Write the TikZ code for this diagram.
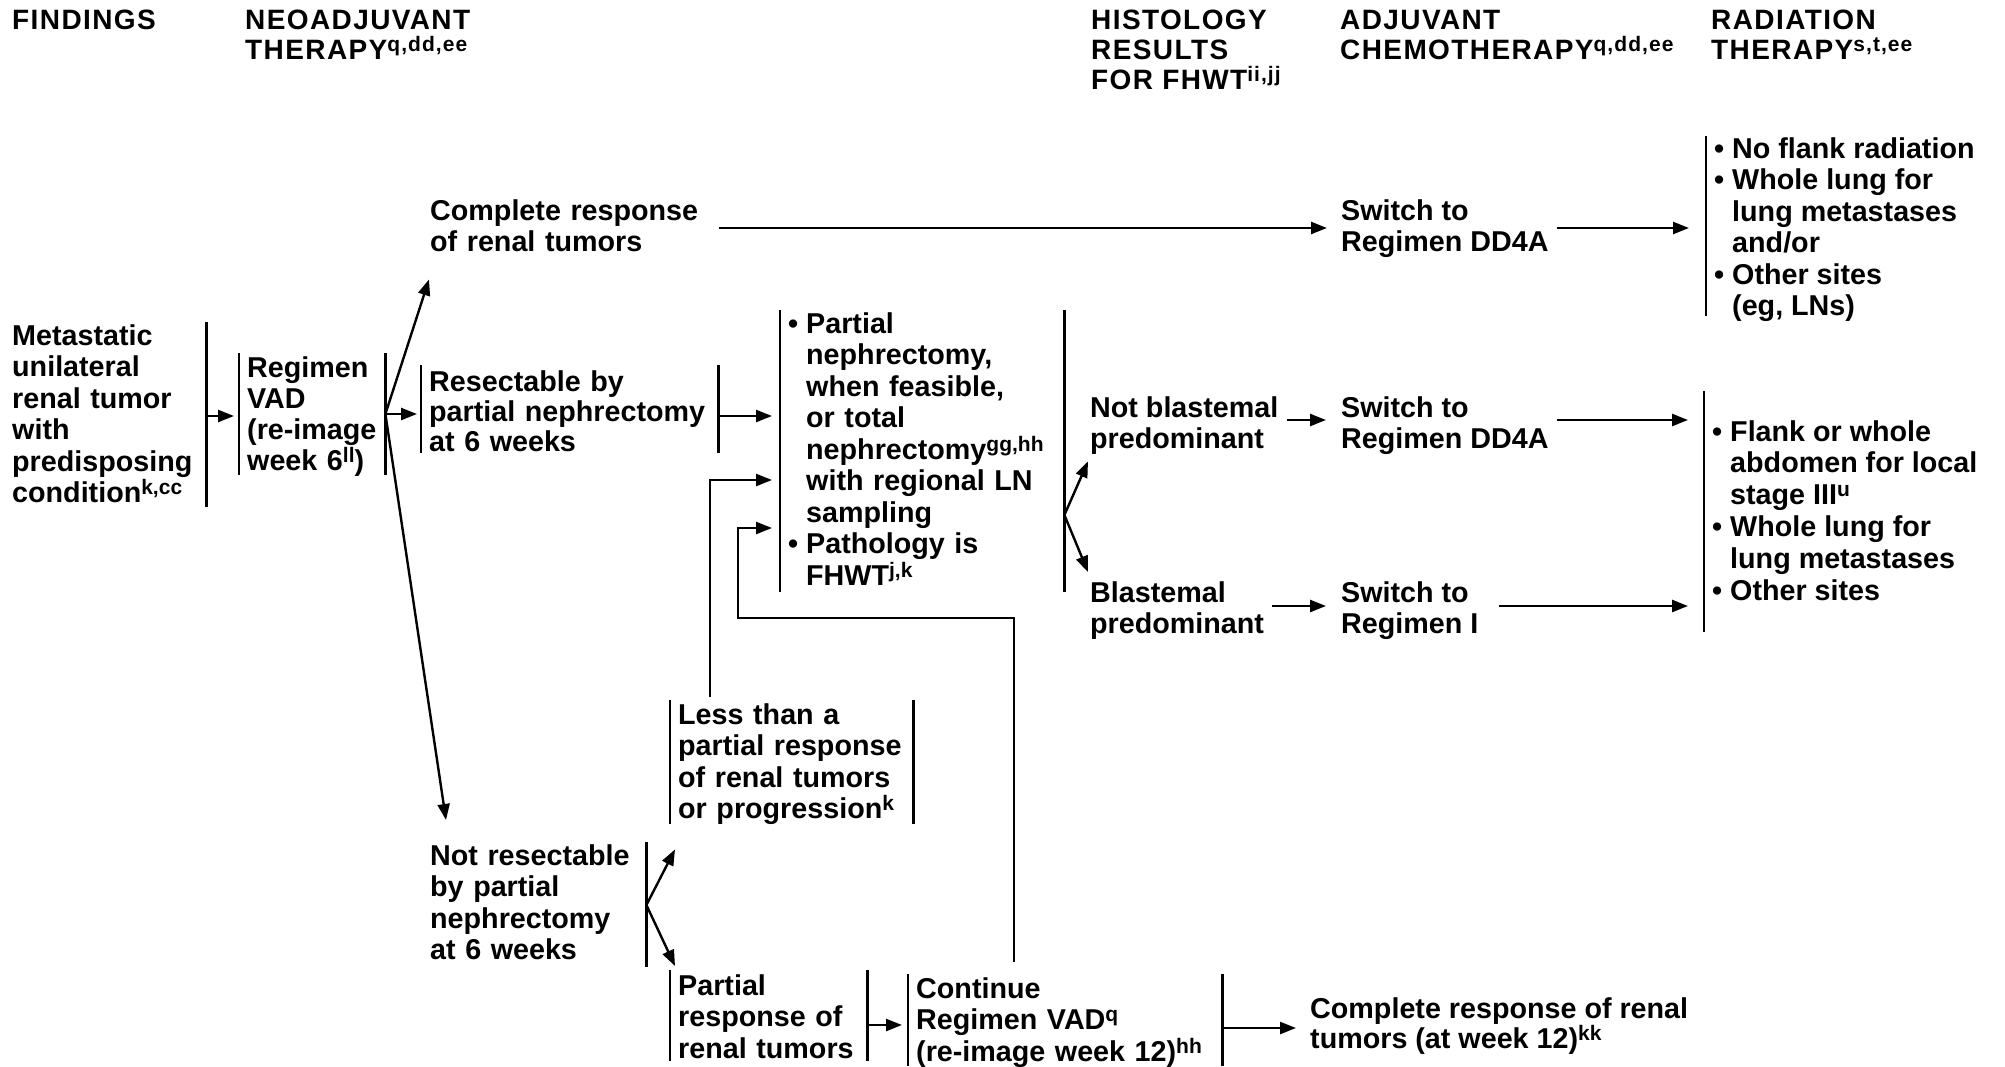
\documentclass[tikz,border=0pt]{standalone}
\usepackage{fontspec}
\setmainfont{Liberation Sans}
\newfontfamily\hdrfam[LetterSpace=5]{Liberation Sans}
\usetikzlibrary{arrows.meta,calc}

% raised footnote letters
\newcommand\sups[1]{\smash{\raisebox{8pt}{\fontsize{21}{21}\selectfont #1}}}
% stacked lines, baseline on the first line
\newcommand\lns[1]{\begin{tabular}[t]{@{}l@{}}#1\end{tabular}}
% bullet with hanging indent
\newcommand\bul{\makebox[18pt][l]{•}}
\newcommand\ind{\hspace*{18pt}}

\begin{document}
\begin{tikzpicture}[x=1pt,y=-1pt,
  txt/.style={anchor=north west, inner xsep=8pt, inner ysep=0pt,
              font=\fontsize{28.7}{31.5}\selectfont\bfseries},
  lead/.style={font=\fontsize{28.7}{#1}\selectfont\bfseries},
  hdr/.style={anchor=north west, inner sep=0pt,
              font=\hdrfam\fontsize{28}{30}\selectfont\bfseries},
  bar/.style={line width=2.8pt},
  arr/.style={line width=2.4pt, -{Triangle[length=16pt,width=12pt]}},
  ln/.style={line width=2.4pt}]

\fill[white] (0,0) rectangle (2005,1067);
\useasboundingbox (0,0) rectangle (2005,1067);

% column headings
\node[hdr] (h1) at (12,8)   {\lns{FINDINGS}};
\node[hdr] (h2) at (245,8)  {\lns{NEOADJUVANT\\THERAPY\sups{q,dd,ee}}};
\node[hdr] (h3) at (1091,8) {\lns{HISTOLOGY\\RESULTS\\FOR FHWT\sups{ii,jj}}};
\node[hdr] (h4) at (1340,8) {\lns{ADJUVANT\\CHEMOTHERAPY\sups{q,dd,ee}}};
\node[hdr] (h5) at (1711,8) {\lns{RADIATION\\THERAPY\sups{s,t,ee}}};

% boxes of the pathway
\node[txt, text width=186] (find) at (4,323)
  {\lns{Metastatic\\unilateral\\renal tumor\\with\\predisposing\\condition\sups{k,cc}}};
\node[txt, lead=31, text width=130] (reg) at (239,355.3)
  {\lns{Regimen\\VAD\\(re-image\\week 6\sups{ll})}};
\node[txt, text width=281] (cr1) at (422,198)
  {\lns{Complete response\\of renal tumors}};
\node[txt, lead=30, text width=281] (res) at (421,370)
  {\lns{Resectable by\\partial nephrectomy\\at 6 weeks}};
\node[txt, text width=268] (mid) at (780,311)
  {\lns{\bul Partial\\\ind nephrectomy,\\\ind when feasible,\\\ind or total\\
        \ind nephrectomy\sups{gg,hh}\\\ind with regional LN\\\ind sampling\\
        \bul Pathology is\\\ind FHWT\sups{j,k}}};
\node[txt] (nb) at (1082,395) {\lns{Not blastemal\\predominant}};
\node[txt] (bl) at (1082,580) {\lns{Blastemal\\predominant}};
\node[txt] (sw1) at (1333,198) {\lns{Switch to\\Regimen DD4A}};
\node[txt] (sw2) at (1333,395) {\lns{Switch to\\Regimen DD4A}};
\node[txt] (sw3) at (1333,580) {\lns{Switch to\\Regimen I}};
\node[txt] (radA) at (1706,136)
  {\lns{\bul No flank radiation\\\bul Whole lung for\\\ind lung metastases\\
        \ind and/or\\\bul Other sites\\\ind (eg, LNs)}};
\node[txt, lead=31.8] (radB) at (1704,418.7)
  {\lns{\bul Flank or whole\\\ind abdomen for local\\\ind stage III\sups{u}\\
        \bul Whole lung for\\\ind lung metastases\\\bul Other sites}};
\node[txt, text width=227] (less) at (670,702)
  {\lns{Less than a\\partial response\\of renal tumors\\or progression\sups{k}}};
\node[txt, text width=208] (notres) at (422,843)
  {\lns{Not resectable\\by partial\\nephrectomy\\at 6 weeks}};
\node[txt, text width=181] (part) at (670,973)
  {\lns{Partial\\response of\\renal tumors}};
\node[txt, text width=298] (cont) at (908,976)
  {\lns{Continue\\Regimen VAD\sups{q}\\(re-image week 12)\sups{hh}}};
\node[txt, lead=29] (cr2) at (1302,997.7)
  {\lns{Complete response of renal\\tumors (at week 12)\sups{kk}}};

% bracket bars
\draw[bar] (find.east |- 0,322) -- (find.east |- 0,507);
\draw[bar] (reg.west |- 0,353) -- (reg.west |- 0,475);
\draw[bar] (reg.east |- 0,353) -- (reg.east |- 0,475);
\draw[bar] (res.west |- 0,365) -- (res.west |- 0,453);
\draw[bar] (res.east |- 0,365) -- (res.east |- 0,453);
\draw[bar] (mid.west |- 0,310) -- (mid.west |- 0,592);
\draw[bar] (mid.east |- 0,310) -- (mid.east |- 0,592);
\draw[bar] (radA.west |- 0,136) -- (radA.west |- 0,316);
\draw[bar] (radB.west |- 0,391) -- (radB.west |- 0,632);
\draw[bar] (less.west |- 0,700) -- (less.west |- 0,824);
\draw[bar] (less.east |- 0,700) -- (less.east |- 0,824);
\draw[bar] (notres.east |- 0,842) -- (notres.east |- 0,967);
\draw[bar] (part.west |- 0,970) -- (part.west |- 0,1061);
\draw[bar] (part.east |- 0,970) -- (part.east |- 0,1061);
\draw[bar] (cont.west |- 0,974) -- (cont.west |- 0,1066);
\draw[bar] (cont.east |- 0,974) -- (cont.east |- 0,1066);

% connectors
\draw[arr, shorten >=5pt] (find.east |- 0,416) -- (reg.west |- 0,416);
\coordinate (rf) at (reg.east |- 0,414);
\draw[arr] (rf) -- ($(cr1.south west)+(7,18)$);
\draw[arr, shorten >=4pt] (rf) -- (res.west |- rf);
\draw[arr] (rf) -- ($(notres.north west)+(24,-23)$);

\draw[arr, shorten >=6pt] (cr1.east |- 0,228) -- (sw1.west |- 0,228);
\draw[arr, shorten >=17pt] (sw1.east |- 0,228) -- (radA.west |- 0,228);

\draw[arr, shorten >=8pt] (res.east |- 0,416) -- (mid.west |- 0,416);
\draw[arr, shorten >=8pt] ($(less.north west)+(40,-5)$) |- (mid.west |- 0,480);
\coordinate (loopc) at (738,618);
\draw[arr, shorten >=8pt] ($(cont.north west)+(106,-14)$) |- (loopc)
  |- (mid.west |- 0,528);

\coordinate (mf) at (mid.east |- 0,515);
\draw[arr] (mf) -- ($(nb.south west)+(6,3)$);
\draw[arr] (mf) -- ($(bl.north west)+(6,-8)$);

\draw[arr, shorten >=7pt] (nb.east |- 0,420) -- (sw2.west |- 0,420);
\draw[arr, shorten >=16pt] (sw2.east |- 0,420) -- (radB.west |- 0,420);
\draw[arr, shorten >=7pt] (bl.east |- 0,606) -- (sw3.west |- 0,606);
\draw[arr, shorten <=12pt, shorten >=16pt] (sw3.east |- 0,606) -- (radB.west |- 0,606);

\coordinate (nf) at (notres.east |- 0,905);
\draw[arr] (nf) -- ($(less.south west)+(5,21)$);
\draw[arr] (nf) -- ($(part.north west)+(5,-7)$);

\draw[arr, shorten >=6pt] (part.east |- 0,1025) -- (cont.west |- 0,1025);
\draw[arr, shorten >=6pt] (cont.east |- 0,1028) -- (cr2.west |- 0,1028);
\end{tikzpicture}
\end{document}
